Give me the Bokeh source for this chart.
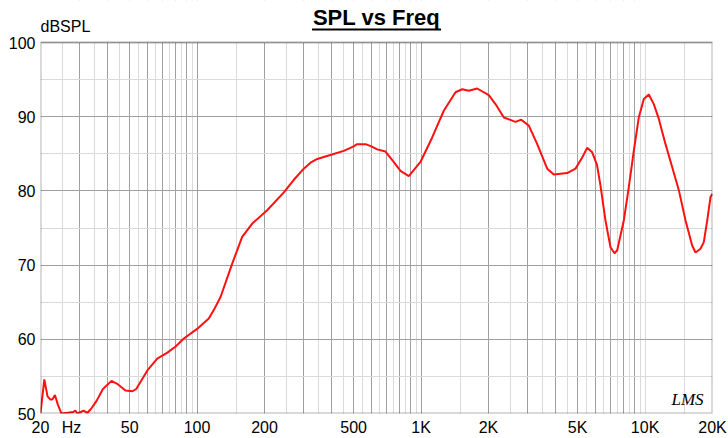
from bokeh.plotting import figure
from bokeh.models import Range1d, FixedTicker, Label, BoxAnnotation
from bokeh.embed import file_html
from bokeh.resources import INLINE

# ---- data ----
freq_hz = [20.0, 20.8, 21.5, 22.1, 22.6, 23.2, 23.9, 24.8, 26.5, 28.0, 28.6, 29.2,
           30.2, 31.1, 32.4, 33.6, 35.6, 38.0, 41.5, 44.0, 47.9, 51.5, 53.5, 60.0,
           66.4, 73.7, 80.0, 87.3, 100, 112.8, 120, 127.3, 143.5, 159.0, 176.3,
           205.6, 244.0, 270.4, 299.6, 321.0, 343.9, 400, 451.9, 500, 518.8, 565.0, 600, 637.0,
           693.7, 750, 809.3, 881.6, 994, 1121, 1263, 1425, 1526, 1634, 1781, 2006,
           2149, 2342, 2639, 2800, 3027, 3300, 3657, 3914, 4491, 4892, 5241, 5515,
           5807, 6100, 6325, 6658, 7009, 7303, 7510, 8036, 8460, 8907, 9377, 9872,
           10393, 10940, 11518, 12339, 13220, 14150, 15158, 16240, 16800, 17680,
           18290, 18940, 19600, 20000]
spl_db = [50.0, 54.6, 52.3, 51.9, 51.9, 52.5, 51.2, 50.0, 50.1, 50.2, 50.4, 50.0,
          50.2, 50.4, 50.1, 50.6, 51.7, 53.3, 54.4, 54.0, 53.1, 53.0, 53.3, 55.8,
          57.4, 58.2, 59.0, 60.1, 61.4, 62.8, 64.2, 65.7, 70.2, 73.8, 75.6,
          77.4, 79.8, 81.5, 83.0, 83.8, 84.3, 84.9, 85.4, 86.0, 86.3, 86.3, 86.0, 85.6,
          85.3, 84.0, 82.7, 82.0, 83.9, 87.2, 90.8, 93.3, 93.7, 93.5, 93.8, 92.9,
          91.7, 89.9, 89.3, 89.6, 88.8, 86.3, 83.0, 82.2, 82.4, 83.0, 84.5, 85.8,
          85.2, 83.5, 80.7, 76.0, 72.4, 71.6, 72.0, 76.0, 80.5, 85.4, 89.9, 92.4,
          93.0, 91.7, 89.7, 86.3, 83.2, 80.1, 76.0, 72.6, 71.7, 72.2,
          73.1, 76.0, 79.2, 79.6]

x_min, x_max = 20, 20000
y_min, y_max = 50, 100
x_tick_values = [20, 27.5, 50, 100, 200, 500, 1000, 2000, 5000, 10000, 20000]
x_tick_labels = ["20", "Hz", "50", "100", "200", "500", "1K", "2K", "5K", "10K", "20K"]
y_tick_values = [50, 60, 70, 80, 90, 100]
y_minor_values = [55, 65, 75, 85, 95]

title_text = "SPL vs Freq"
y_unit_text = "dBSPL"
logo_text = "LMS"

# grid lines: integer multiples (dark) and half multiples (light) per decade
x_grid_major = [m * 10 ** k for k in (1, 2, 3) for m in range(1, 10) if 20 <= m * 10 ** k <= 9000]
x_grid_minor = [(m + 0.5) * 10 ** k for k in (1, 2, 3) for m in range(1, 10)
                if 25 <= (m + 0.5) * 10 ** k <= 9500] + [10000, 15000]

FONT = "Liberation Sans"

# layout (pixels): the frame spans the whole height down to the x axis, the
# plotting box occupies the lower part, the header lives in the top strip
W, H = 728, 438
box_top_px, box_bottom_px = 42, 413
px_per_db = (box_bottom_px - box_top_px) / (y_max - y_min)
y_frame_top = y_max + box_top_px / px_per_db

p = figure(width=W, height=H, x_axis_type="log",
           x_range=Range1d(x_min, x_max), y_range=Range1d(y_min, y_frame_top),
           output_backend="svg", toolbar_location=None,
           min_border_left=40, min_border_right=16, min_border_top=0, min_border_bottom=25)

p.background_fill_color = "white"
p.border_fill_color = "white"
p.outline_line_color = None

# axes
p.xaxis.ticker = FixedTicker(ticks=x_tick_values)
p.xaxis.major_label_overrides = {v: t for v, t in zip(x_tick_values, x_tick_labels)}
p.yaxis.ticker = FixedTicker(ticks=y_tick_values)
for ax in (p.xaxis[0], p.yaxis[0]):
    ax.axis_line_color = None
    ax.major_tick_line_color = None
    ax.minor_tick_line_color = None
    ax.major_tick_out = 0
    ax.major_tick_in = 0
    ax.minor_tick_out = 0
    ax.minor_tick_in = 0
    ax.major_label_text_font = FONT
    ax.major_label_text_font_size = "16px"
    ax.major_label_text_color = "black"
p.xaxis.major_label_standoff = 5
p.yaxis.major_label_standoff = 5

# grids
p.xgrid.ticker = FixedTicker(ticks=x_grid_major, minor_ticks=x_grid_minor)
p.xgrid.grid_line_color = "#a0a0a0"
p.xgrid.minor_grid_line_color = "#dadada"
p.ygrid.ticker = FixedTicker(ticks=y_tick_values, minor_ticks=y_minor_values)
p.ygrid.grid_line_color = "#a0a0a0"
p.ygrid.minor_grid_line_color = "#dadada"

# curve
p.line(freq_hz, spl_db, line_color="#ff1010", line_width=2)

# white header strip hides grid above the plotting box
p.add_layout(BoxAnnotation(bottom=y_max, fill_color="white", fill_alpha=1, line_color=None))
# plotting box border
p.add_layout(BoxAnnotation(left=x_min, right=x_max, bottom=y_min, top=y_max,
                           fill_alpha=0, line_color="black", line_width=2))

# title with underline
p.add_layout(Label(x=336, x_units="screen", y=y_max, y_offset=25, text=title_text,
                   text_align="center", text_baseline="alphabetic",
                   text_font=FONT, text_font_size="22px", text_font_style="bold",
                   text_color="black"))
p.add_layout(BoxAnnotation(left=271.5, right=400.5, left_units="screen", right_units="screen",
                           top=y_max + 14 / px_per_db, bottom=y_max + 12 / px_per_db,
                           fill_color="black", fill_alpha=1, line_color=None))

# unit label
p.add_layout(Label(x=0, x_units="screen", y=y_max, y_offset=16, text=y_unit_text,
                   text_align="left", text_baseline="alphabetic",
                   text_font=FONT, text_font_size="16px", text_color="black"))

# logo
p.add_layout(Label(x=647, x_units="screen", y=y_min, y_offset=14, text=logo_text,
                   text_align="center", text_baseline="alphabetic",
                   text_font="Liberation Serif", text_font_size="17px",
                   text_font_style="italic", text_color="black"))

open("out.html", "w").write(file_html(p, INLINE))
